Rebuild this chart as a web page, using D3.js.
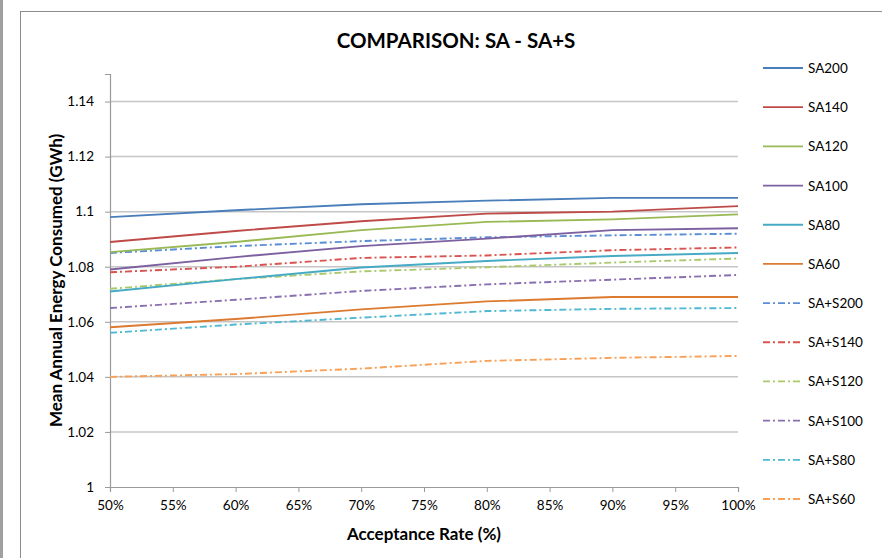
<!DOCTYPE html>
<html>
<head>
<meta charset="utf-8">
<script src="https://cdn.jsdelivr.net/npm/d3@7"></script>
<style>
  html, body { margin: 0; padding: 0; background: #fff; }
  svg { display: block; }
  text { font-family: Lato, "Open Sans", sans-serif; fill: #000; }
</style>
</head>
<body>
<svg id="chart" width="882" height="558"></svg>
<script>
// Acceptance rates (%) on the x axis
const rates = [50, 60, 70, 80, 90, 100];

// Mean annual energy consumed (GWh) per configuration
const SA200   = [1.098, 1.1005, 1.1027, 1.104, 1.105, 1.105];
const SA140   = [1.089, 1.093, 1.0965, 1.0993, 1.100, 1.102];
const SA120   = [1.0853, 1.089, 1.0933, 1.0963, 1.0972, 1.099];
const SA100   = [1.079, 1.0835, 1.0875, 1.0902, 1.0933, 1.094];
const SA80    = [1.071, 1.0755, 1.0797, 1.0821, 1.0839, 1.085];
const SA60    = [1.058, 1.061, 1.0645, 1.0674, 1.069, 1.069];
const SAS200  = [1.085, 1.0875, 1.0893, 1.0907, 1.0914, 1.092];
const SAS140  = [1.078, 1.080, 1.0832, 1.0841, 1.086, 1.087];
const SAS120  = [1.072, 1.0755, 1.0783, 1.0798, 1.0815, 1.083];
const SAS100  = [1.065, 1.068, 1.0712, 1.0736, 1.0753, 1.077];
const SAS80   = [1.056, 1.059, 1.0615, 1.0639, 1.0647, 1.065];
const SAS60   = [1.040, 1.041, 1.043, 1.0458, 1.0469, 1.0476];

const seriesNames = ["SA200", "SA140", "SA120", "SA100", "SA80", "SA60",
                     "SA+S200", "SA+S140", "SA+S120", "SA+S100", "SA+S80", "SA+S60"];
const seriesValues = [SA200, SA140, SA120, SA100, SA80, SA60,
                      SAS200, SAS140, SAS120, SAS100, SAS80, SAS60];
const seriesColors = ["#4a7ebb", "#be4b48", "#98b954", "#7d60a0", "#46aac5", "#dc7a30",
                      "#5a8ed6", "#d9534f", "#a9c96a", "#8a6fb0", "#4fb8d3", "#f9a057"];
const seriesDashed = [false, false, false, false, false, false,
                      true, true, true, true, true, true];

const xTicks = [50, 55, 60, 65, 70, 75, 80, 85, 90, 95, 100];
const yTicks = [1, 1.02, 1.04, 1.06, 1.08, 1.1, 1.12, 1.14];
const yDomain = [1, 1.15];

const titleText = "COMPARISON: SA - SA+S";
const xTitle = "Acceptance Rate (%)";
const yTitle = "Mean Annual Energy Consumed (GWh)";

const svg = d3.select("#chart");
const W = 882, H = 558;
const plot = { left: 110, right: 738, top: 74, bottom: 487 };

// page edge strip and chart frame
svg.append("rect").attr("x", 0).attr("y", 0).attr("width", 3).attr("height", H).attr("fill", "#a0a0a0");
svg.append("rect").attr("x", 20.5).attr("y", 11.5).attr("width", 900).attr("height", 600)
  .attr("fill", "#fff").attr("stroke", "#8c8c8c").attr("stroke-width", 1);

const x = d3.scaleLinear().domain([50, 100]).range([plot.left, plot.right]);
const y = d3.scaleLinear().domain(yDomain).range([plot.bottom, plot.top]);

// horizontal gridlines
svg.append("g").selectAll("line")
  .data(yTicks.filter(v => v > 1))
  .join("line")
  .attr("x1", plot.left).attr("x2", plot.right)
  .attr("y1", d => y(d)).attr("y2", d => y(d))
  .attr("stroke", "#c6c6c6").attr("stroke-width", 1.5);

// y axis
const yAxis = d3.axisLeft(y).tickValues(yTicks).tickSize(5).tickPadding(11)
  .tickFormat(d => String(+d.toFixed(2)));
const gy = svg.append("g").attr("transform", `translate(${plot.left},0)`).call(yAxis);
gy.select(".domain").attr("stroke", "#9a9a9a").attr("stroke-width", 1.2);
gy.selectAll(".tick line").attr("stroke", "#9a9a9a");
gy.selectAll(".tick text").attr("font-size", 13.5).attr("font-family", "Lato").attr("fill", "#000");

// x axis
const xAxis = d3.axisBottom(x).tickValues(xTicks).tickSize(5).tickPadding(8)
  .tickFormat(d => d + "%");
const gx = svg.append("g").attr("transform", `translate(0,${plot.bottom})`).call(xAxis);
gx.select(".domain").attr("stroke", "#9a9a9a").attr("stroke-width", 1.2);
gx.selectAll(".tick line").attr("stroke", "#9a9a9a");
gx.selectAll(".tick text").attr("font-size", 13.5).attr("font-family", "Lato").attr("fill", "#000");

// series lines
const line = d3.line().x((d, i) => x(rates[i])).y(d => y(d));
const dashPattern = "7,3,2,3";
svg.append("g").selectAll("path")
  .data(seriesValues.map((v, i) => ({ v, i })).reverse())
  .join("path")
  .attr("d", d => line(d.v))
  .attr("fill", "none")
  .attr("stroke", d => seriesColors[d.i])
  .attr("stroke-width", 1.9)
  .attr("stroke-dasharray", d => seriesDashed[d.i] ? dashPattern : null);

// title
svg.append("text").attr("x", 456).attr("y", 48).attr("text-anchor", "middle")
  .attr("font-size", 20.5).attr("font-weight", "bold").text(titleText);

// axis titles
svg.append("text").attr("x", (plot.left + plot.right) / 2).attr("y", 540)
  .attr("text-anchor", "middle").attr("font-size", 17).attr("font-weight", "bold").text(xTitle);
svg.append("text")
  .attr("transform", `translate(62,${(plot.top + plot.bottom) / 2}) rotate(-90)`)
  .attr("text-anchor", "middle").attr("font-size", 17).attr("font-weight", "bold").text(yTitle);

// legend
const legend = svg.append("g");
const legY = d3.scalePoint().domain(seriesNames).range([68, 499]);
seriesNames.forEach((name, i) => {
  const ly = legY(name);
  legend.append("line").attr("x1", 763).attr("x2", 803).attr("y1", ly).attr("y2", ly)
    .attr("stroke", seriesColors[i]).attr("stroke-width", 1.8)
    .attr("stroke-dasharray", seriesDashed[i] ? dashPattern : null);
  legend.append("text").attr("x", 808).attr("y", ly + 5).attr("font-size", 13.5).text(name);
});
</script>
</body>
</html>
